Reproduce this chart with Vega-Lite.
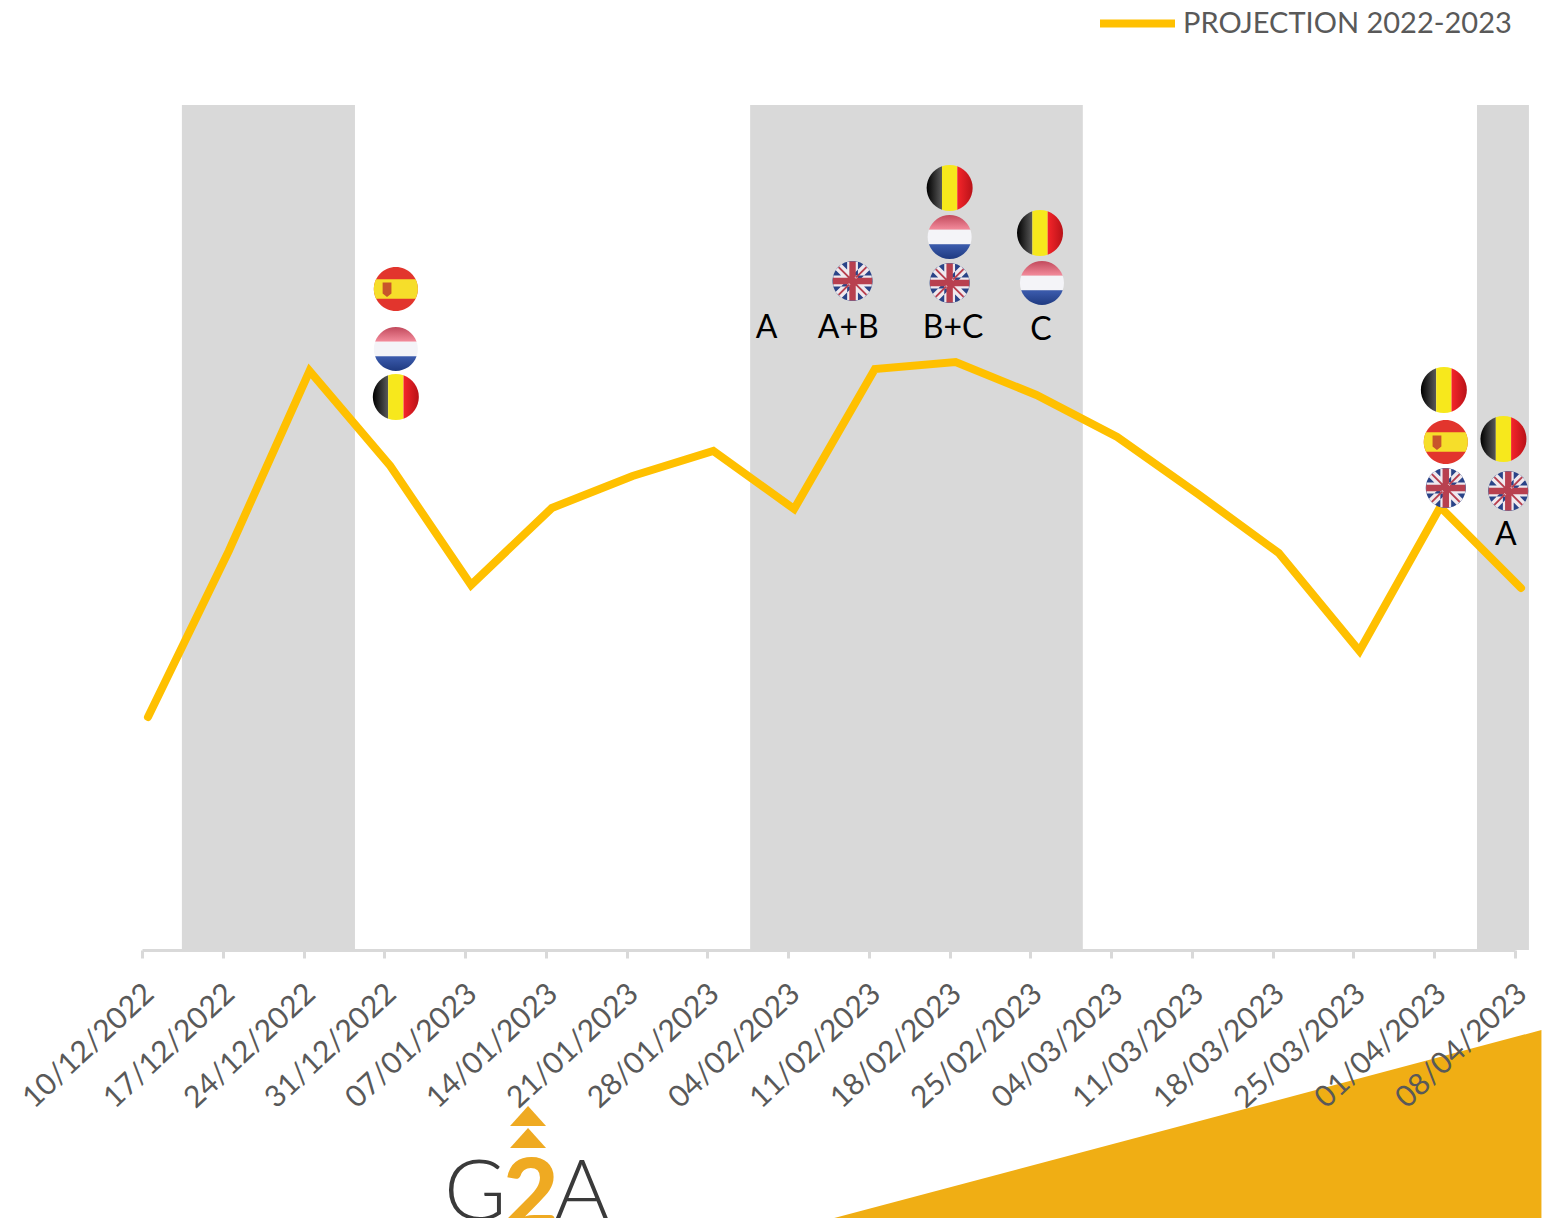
{"$schema":"https://vega.github.io/schema/vega-lite/v6.json","autosize":"none","width":1373,"height":845,"padding":{"left":142,"top":105,"right":27,"bottom":268},"background":"white","config":{"view":{"stroke":null},"font":"Lato"},"datasets":{"line":[{"date":"2022-12-10","value":233,"series":"PROJECTION 2022-2023"},{"date":"2022-12-17","value":399,"series":"PROJECTION 2022-2023"},{"date":"2022-12-24","value":579,"series":"PROJECTION 2022-2023"},{"date":"2022-12-31","value":484,"series":"PROJECTION 2022-2023"},{"date":"2023-01-07","value":365,"series":"PROJECTION 2022-2023"},{"date":"2023-01-14","value":442,"series":"PROJECTION 2022-2023"},{"date":"2023-01-21","value":474,"series":"PROJECTION 2022-2023"},{"date":"2023-01-28","value":499,"series":"PROJECTION 2022-2023"},{"date":"2023-02-04","value":441,"series":"PROJECTION 2022-2023"},{"date":"2023-02-11","value":581,"series":"PROJECTION 2022-2023"},{"date":"2023-02-18","value":588,"series":"PROJECTION 2022-2023"},{"date":"2023-02-25","value":555,"series":"PROJECTION 2022-2023"},{"date":"2023-03-04","value":513,"series":"PROJECTION 2022-2023"},{"date":"2023-03-11","value":456,"series":"PROJECTION 2022-2023"},{"date":"2023-03-18","value":397,"series":"PROJECTION 2022-2023"},{"date":"2023-03-25","value":299,"series":"PROJECTION 2022-2023"},{"date":"2023-04-01","value":443,"series":"PROJECTION 2022-2023"},{"date":"2023-04-08","value":362,"series":"PROJECTION 2022-2023"}],"flags":[{"date":"2023-01-01T00:00:00Z","value":661,"flag":"ES"},{"date":"2023-01-01T00:00:00Z","value":601,"flag":"NL"},{"date":"2023-01-01T00:00:00Z","value":553,"flag":"BE"},{"date":"2023-02-09T14:00:00Z","value":669,"flag":"UK"},{"date":"2023-02-18T00:00:00Z","value":762,"flag":"BE"},{"date":"2023-02-18T00:00:00Z","value":713,"flag":"NL"},{"date":"2023-02-18T00:00:00Z","value":667,"flag":"UK"},{"date":"2023-02-25T20:00:00Z","value":717,"flag":"BE"},{"date":"2023-02-26T00:00:00Z","value":667,"flag":"NL"},{"date":"2023-04-01T20:00:00Z","value":560,"flag":"BE"},{"date":"2023-04-02T00:00:00Z","value":508,"flag":"ES"},{"date":"2023-04-02T00:00:00Z","value":462,"flag":"UK"},{"date":"2023-04-07T00:00:00Z","value":511,"flag":"BE"},{"date":"2023-04-07T10:00:00Z","value":459,"flag":"UK"}],"notes":[{"date":"2023-02-02T03:00:00Z","value":622,"label":"A"},{"date":"2023-02-09T05:00:00Z","value":622,"label":"A+B"},{"date":"2023-02-18T07:00:00Z","value":622,"label":"B+C"},{"date":"2023-02-25T22:00:00Z","value":620,"label":"C"},{"date":"2023-04-07T05:00:00Z","value":415,"label":"A"}]},"encoding":{"x":{"field":"date","type":"temporal","title":null,"scale":{"type":"utc","domain":[{"year":2022,"month":12,"date":10,"utc":true},{"year":2023,"month":4,"date":8,"utc":true}],"nice":false},"axis":{"zindex":1,"grid":false,"title":null,"values":[{"year":2022,"month":12,"date":10,"utc":true},{"year":2022,"month":12,"date":17,"utc":true},{"year":2022,"month":12,"date":24,"utc":true},{"year":2022,"month":12,"date":31,"utc":true},{"year":2023,"month":1,"date":7,"utc":true},{"year":2023,"month":1,"date":14,"utc":true},{"year":2023,"month":1,"date":21,"utc":true},{"year":2023,"month":1,"date":28,"utc":true},{"year":2023,"month":2,"date":4,"utc":true},{"year":2023,"month":2,"date":11,"utc":true},{"year":2023,"month":2,"date":18,"utc":true},{"year":2023,"month":2,"date":25,"utc":true},{"year":2023,"month":3,"date":4,"utc":true},{"year":2023,"month":3,"date":11,"utc":true},{"year":2023,"month":3,"date":18,"utc":true},{"year":2023,"month":3,"date":25,"utc":true},{"year":2023,"month":4,"date":1,"utc":true},{"year":2023,"month":4,"date":8,"utc":true}],"format":"%d/%m/%Y","labelAngle":-43,"labelAlign":"right","labelBaseline":"middle","labelFont":"Lato","labelFontSize":30,"labelColor":"#595959","labelPadding":31,"labelOffset":7,"labelOverlap":false,"labelBound":false,"labelFlush":false,"domainColor":"#D9D9D9","domainWidth":3,"tickColor":"#D9D9D9","tickWidth":3,"tickSize":8}},"y":{"field":"value","type":"quantitative","title":null,"scale":{"domain":[0,845],"nice":false,"zero":false},"axis":null}},"layer":[{"data":{"values":[{"date":"2022-12-13T11:00:00Z","end":"2022-12-28T11:00:00Z","value":845,"base":0},{"date":"2023-01-31T17:00:00Z","end":"2023-03-01T13:00:00Z","value":845,"base":0},{"date":"2023-04-04T17:00:00Z","end":"2023-04-09T05:00:00Z","value":845,"base":0}],"format":{"parse":{"date":"date","end":"date"}}},"mark":{"type":"rect","fill":"#D9D9D9","opacity":1},"encoding":{"x2":{"field":"end"},"y2":{"field":"base"}}},{"data":{"values":[{"date":"2023-02-08T00:00:00Z","value":-268},{"date":"2023-04-10T07:00:00Z","value":-80}]},"mark":{"type":"area","color":"#F0AE14","clip":false},"encoding":{"y2":{"datum":-268}}},{"data":{"name":"line"},"mark":{"type":"line","strokeWidth":8,"strokeCap":"round","strokeJoin":"miter","xOffset":6},"encoding":{"color":{"field":"series","type":"nominal","scale":{"range":["#FFC000"]},"legend":{"title":null,"orient":"none","legendX":954,"legendY":-123,"symbolType":"stroke","symbolSize":5625,"symbolStrokeWidth":8,"labelFont":"Lato","labelFontSize":29,"labelColor":"#595959","labelOffset":4,"labelLimit":500}}}},{"data":{"name":"flags"},"transform":[{"filter":"datum.flag=='BE'"}],"mark":{"type":"point","filled":true,"opacity":1,"size":2116,"fill":{"gradient":"linear","x1":0,"x2":1,"y1":0,"y2":0,"stops":[{"offset":0,"color":"#000000"},{"offset":1,"color":"#5A5A5A"}]},"shape":"M-0.333,-0.943A1,1,0,0,0,-0.333,0.943Z"}},{"data":{"name":"flags"},"transform":[{"filter":"datum.flag=='BE'"}],"mark":{"type":"point","filled":true,"opacity":1,"size":2116,"color":"#F7E81C","shape":"M-0.333,-0.943A1,1,0,0,1,0.333,-0.943L0.333,0.943A1,1,0,0,1,-0.333,0.943Z"}},{"data":{"name":"flags"},"transform":[{"filter":"datum.flag=='BE'"}],"mark":{"type":"point","filled":true,"opacity":1,"size":2116,"fill":{"gradient":"linear","x1":0,"x2":1,"y1":0,"y2":0,"stops":[{"offset":0,"color":"#F5252A"},{"offset":1,"color":"#B81218"}]},"shape":"M0.333,-0.943A1,1,0,0,1,0.333,0.943Z"}},{"data":{"name":"flags"},"transform":[{"filter":"datum.flag=='NL'"}],"mark":{"type":"point","filled":true,"opacity":1,"size":1936,"fill":{"gradient":"linear","x1":0,"x2":0,"y1":0,"y2":1,"stops":[{"offset":0,"color":"#C24A5C"},{"offset":1,"color":"#F38C9C"}]},"shape":"M-0.943,-0.333A1,1,0,0,1,0.943,-0.333Z"}},{"data":{"name":"flags"},"transform":[{"filter":"datum.flag=='NL'"}],"mark":{"type":"point","filled":true,"opacity":1,"size":1936,"color":"#F4F4F8","shape":"M-0.943,-0.333L0.943,-0.333A1,1,0,0,1,0.943,0.333L-0.943,0.333A1,1,0,0,1,-0.943,-0.333Z"}},{"data":{"name":"flags"},"transform":[{"filter":"datum.flag=='NL'"}],"mark":{"type":"point","filled":true,"opacity":1,"size":1936,"fill":{"gradient":"linear","x1":0,"x2":0,"y1":0,"y2":1,"stops":[{"offset":0,"color":"#3C5CAE"},{"offset":1,"color":"#1F3A80"}]},"shape":"M-0.943,0.333L0.943,0.333A1,1,0,0,1,-0.943,0.333Z"}},{"data":{"name":"flags"},"transform":[{"filter":"datum.flag=='ES'"}],"mark":{"type":"point","filled":true,"opacity":1,"size":1936,"color":"#E2352D","shape":"M-1,0A1,1,0,1,1,1,0A1,1,0,1,1,-1,0Z"}},{"data":{"name":"flags"},"transform":[{"filter":"datum.flag=='ES'"}],"mark":{"type":"point","filled":true,"opacity":1,"size":1936,"color":"#F6DE2A","shape":"M-0.9,-0.44L0.9,-0.44A1,1,0,0,1,0.9,0.44L-0.9,0.44A1,1,0,0,1,-0.9,-0.44Z"}},{"data":{"name":"flags"},"transform":[{"filter":"datum.flag=='ES'"}],"mark":{"type":"point","filled":true,"opacity":1,"size":1936,"color":"#C8552B","shape":"M-0.6,-0.3L-0.2,-0.3L-0.2,0.2L-0.4,0.36L-0.6,0.2Z"}},{"data":{"name":"flags"},"transform":[{"filter":"datum.flag=='UK'"}],"mark":{"type":"point","filled":true,"opacity":1,"size":1600,"color":"#2A4488","shape":"M-1,0A1,1,0,1,1,1,0A1,1,0,1,1,-1,0Z"}},{"data":{"name":"flags"},"transform":[{"filter":"datum.flag=='UK'"}],"mark":{"type":"point","filled":true,"opacity":1,"size":1600,"color":"#EFE9EE","shape":"M-0.85,-0.55L-0.55,-0.85L0.85,0.55L0.55,0.85ZM0.85,-0.55L0.55,-0.85L-0.85,0.55L-0.55,0.85ZM-0.27,-0.96L0.27,-0.96L0.27,0.96L-0.27,0.96ZM-0.96,-0.27L0.96,-0.27L0.96,0.27L-0.96,0.27Z"}},{"data":{"name":"flags"},"transform":[{"filter":"datum.flag=='UK'"}],"mark":{"type":"point","filled":true,"opacity":1,"size":1600,"color":"#B8404F","shape":"M-0.73,-0.66L-0.66,-0.73L0.73,0.66L0.66,0.73ZM0.73,-0.66L0.66,-0.73L-0.73,0.66L-0.66,0.73ZM-0.16,-0.98L0.16,-0.98L0.16,0.98L-0.16,0.98ZM-0.98,-0.16L0.98,-0.16L0.98,0.16L-0.98,0.16Z"}},{"data":{"name":"notes"},"mark":{"type":"text","font":"Lato","fontSize":32,"color":"#000000","align":"center","baseline":"middle"},"encoding":{"text":{"field":"label"}}},{"data":{"values":[{"date":"2023-01-12T11:00:00Z","value":-166},{"date":"2023-01-12T11:00:00Z","value":-188}]},"mark":{"type":"point","filled":true,"opacity":1,"size":1296,"color":"#EFAA22","shape":"M-1,0.55L0,-0.55L1,0.55Z"}},{"data":{"values":[{"date":"2023-01-07T21:00:00Z","value":-268,"label":"G"},{"date":"2023-01-17T03:00:00Z","value":-268,"label":"A"}]},"mark":{"type":"text","font":"Lato","fontWeight":300,"fontSize":85,"color":"#3A3A3A","align":"center","baseline":"alphabetic","dy":2},"encoding":{"text":{"field":"label"}}},{"data":{"values":[{"date":"2023-01-12T17:00:00Z","value":-268,"label":"2"}]},"mark":{"type":"text","font":"Lato","fontWeight":900,"fontSize":96,"color":"#EFAA22","align":"center","baseline":"alphabetic","dy":9},"encoding":{"text":{"field":"label"}}}]}
